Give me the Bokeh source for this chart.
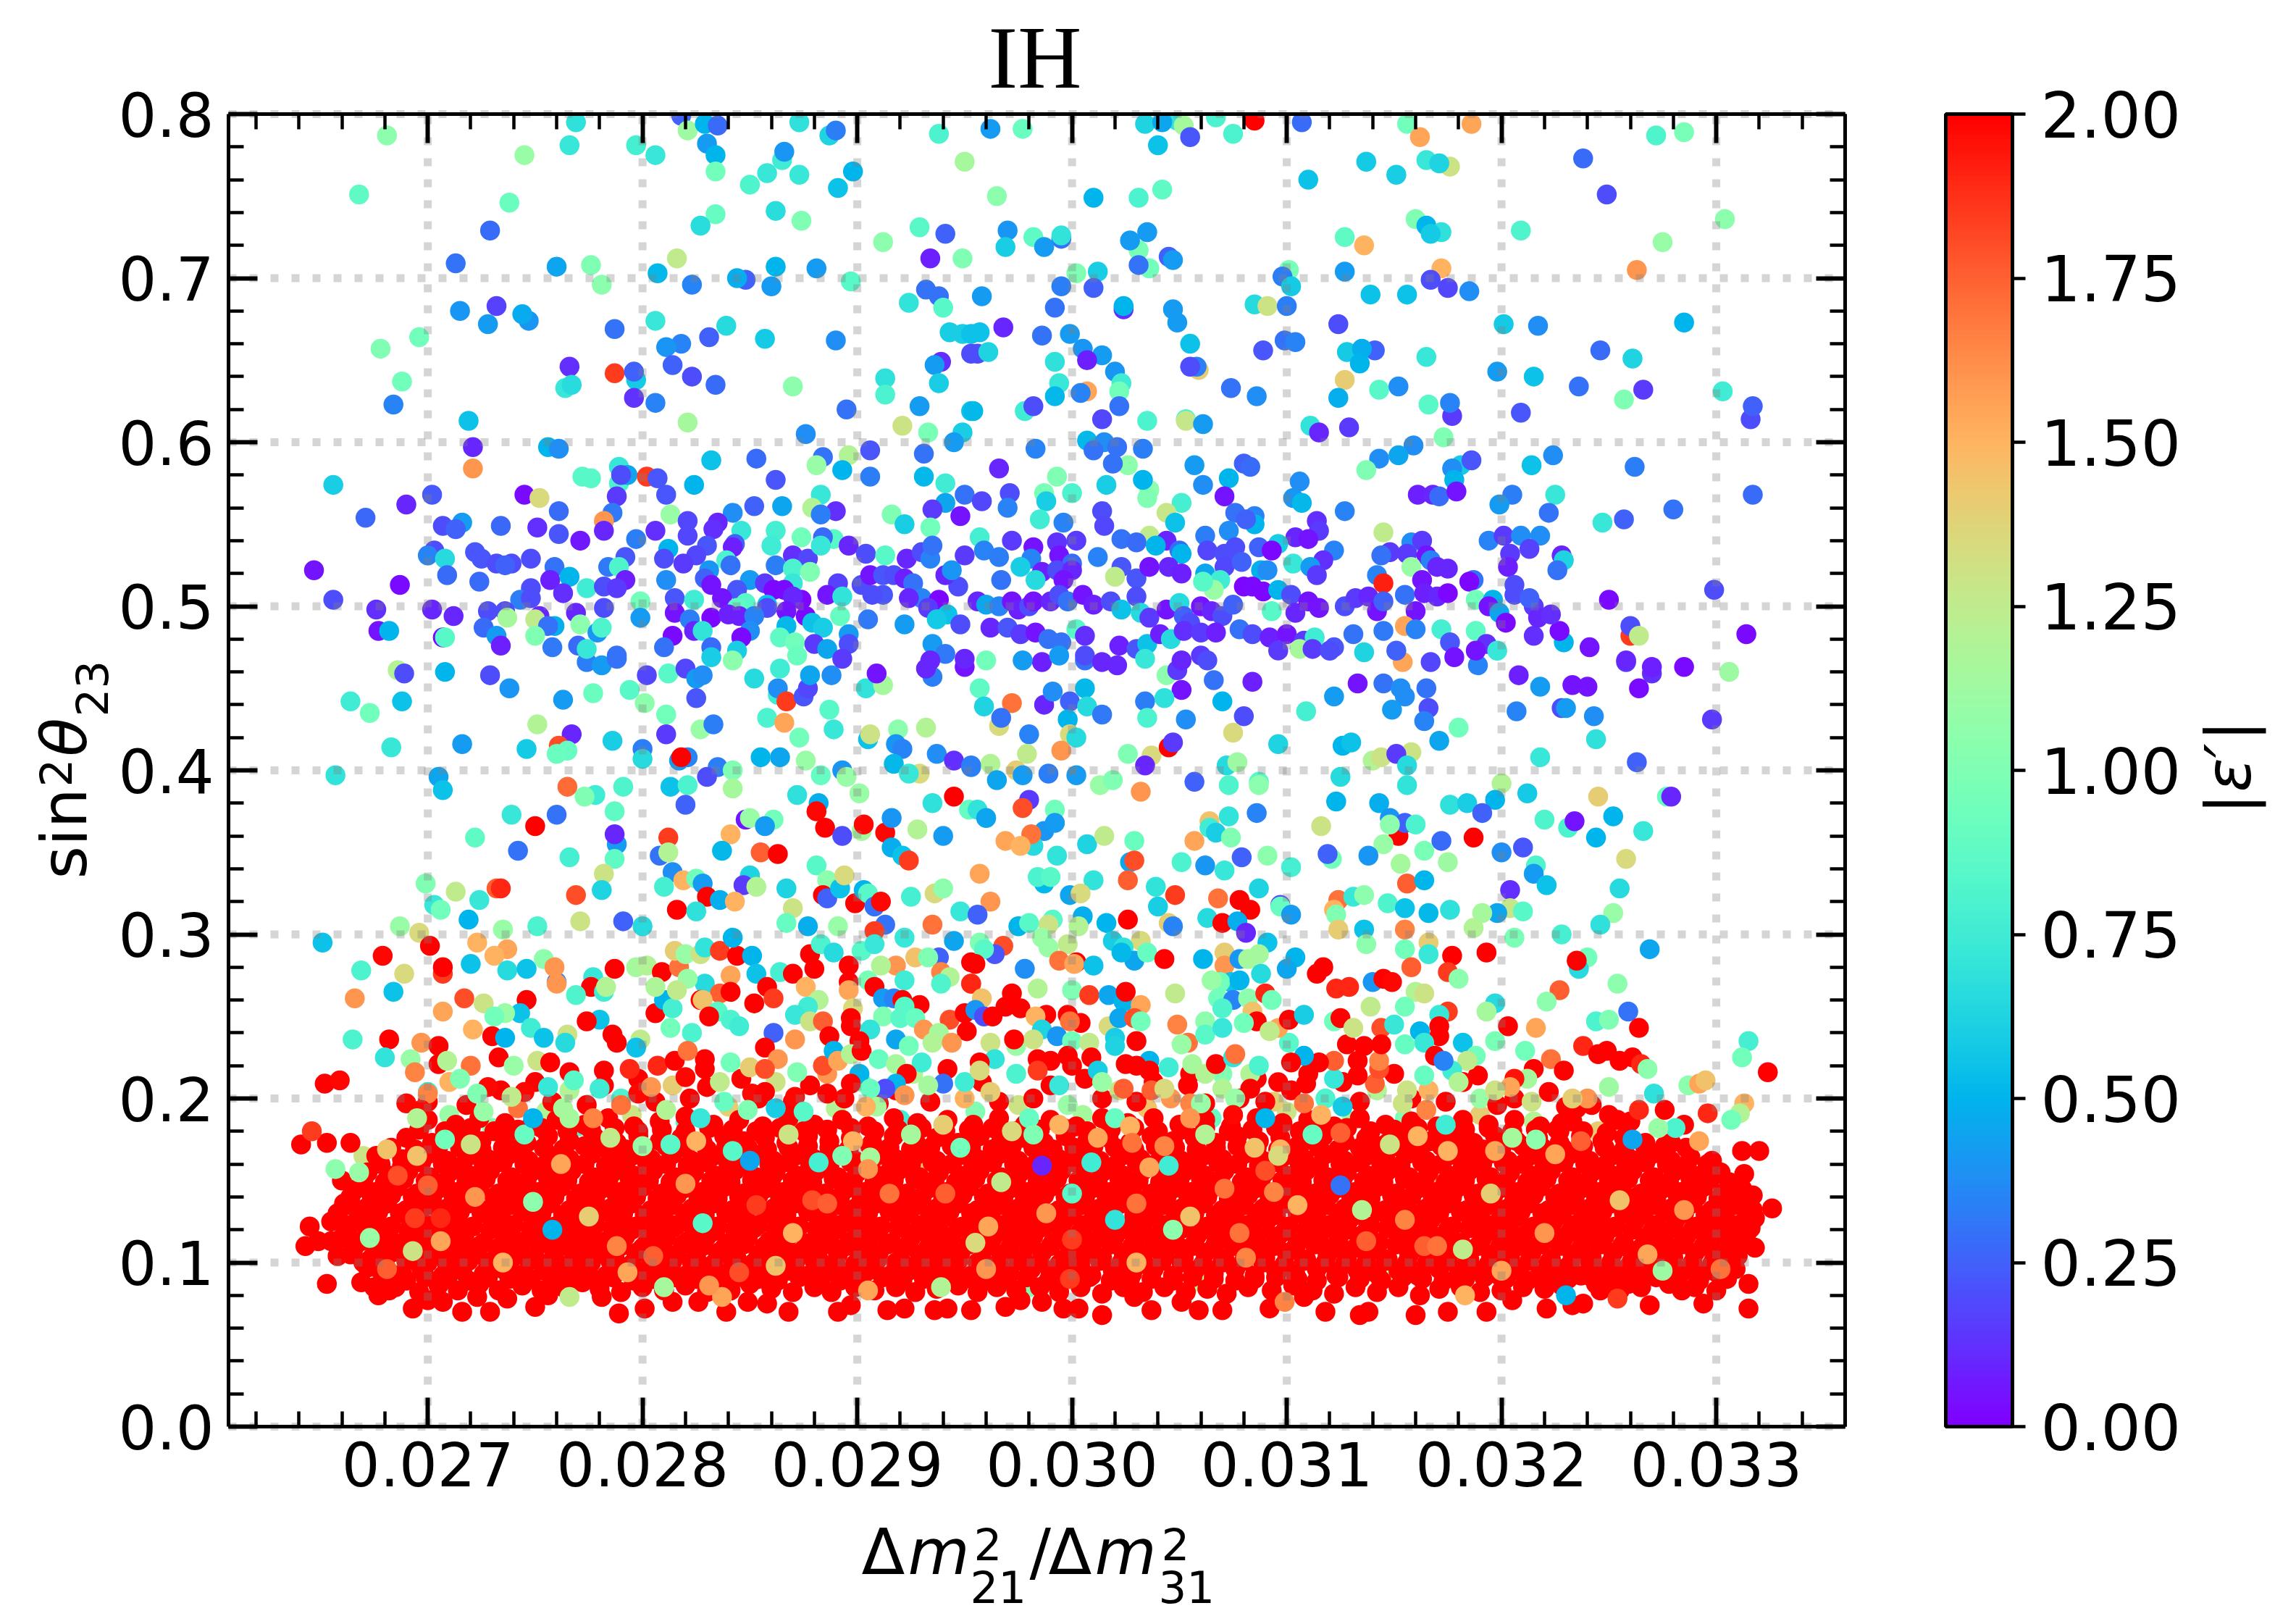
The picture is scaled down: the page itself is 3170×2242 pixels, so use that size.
import numpy as np
from bokeh.embed import file_html
from bokeh.resources import INLINE
from bokeh.plotting import figure
from bokeh.models import (ColumnDataSource, Range1d, LinearAxis, FixedTicker, PrintfTickFormatter,
                          LinearColorMapper, ColorBar, Label)

# ---- tick labels -------------------------------------------------------
x_major = [0.027, 0.028, 0.029, 0.030, 0.031, 0.032, 0.033]
y_major = [0.0, 0.1, 0.2, 0.3, 0.4, 0.5, 0.6, 0.7, 0.8]
cbar_major = [0.0, 0.25, 0.5, 0.75, 1.0, 1.25, 1.5, 1.75, 2.0]

# ---- points: (dm2 ratio x 1000, sin^2 theta23, |eps'|) ----
upper_left = [
(26.81,.787,1.05),(27.69,.795,.68),(27.66,.781,.72),(27.45,.775,1.1),(27.97,.781,.78),(28.06,.775,.72),(28.18,.799,.25),(28.21,.79,1.12),(28.29,.794,.5),(28.35,.793,.28),
(28.30,.782,.42),(28.34,.775,.5),(28.34,.765,.95),(28.50,.757,.82),(28.58,.764,.72),(28.65,.772,.75),(28.66,.777,.4),(28.73,.763,.72),(28.73,.795,.68),(28.87,.787,.62),
(28.90,.79,.33),(28.98,.765,.5),(28.91,.755,.55),(29.38,.788,.8),(29.50,.771,1.15),(26.68,.751,.88),(27.38,.746,.92),(27.29,.729,.28),(28.62,.741,.67),(28.34,.739,.9),
(28.27,.732,.67),(28.74,.735,1.0),(29.12,.722,1.05),(29.29,.731,.85),(29.41,.727,.25),(29.34,.712,.08),(29.49,.712,1.0),(28.16,.712,1.25),(27.13,.709,.3),(27.60,.707,.45),
(27.76,.708,1.0),(28.07,.703,.52),(28.62,.707,.5),(28.81,.706,.42),(28.48,.699,.25),(28.44,.70,.48),(28.23,.696,.35),(28.60,.695,.42),(28.97,.698,.85),(27.81,.696,1.05),
(29.32,.693,.3),(29.38,.689,.3),(29.24,.685,.7),(29.40,.682,.85),(27.15,.68,.4),(27.32,.683,.17),(27.47,.674,.4),(27.44,.678,.47),(27.28,.672,.42),(28.06,.674,.72),
(27.87,.669,.3),(28.39,.671,.65),(28.57,.663,.58),(26.96,.664,.95),(28.31,.664,.25),(28.18,.660,.35),(28.11,.658,.4),(28.90,.662,.38),(29.43,.667,.6),(29.49,.666,.6),
(29.53,.666,.55),(26.78,.657,1.0),(27.66,.646,.12),(29.39,.649,.12),(29.36,.647,.42),(29.53,.654,.2),(27.87,.642,1.85),(27.97,.638,.58),(27.96,.643,.25),(28.14,.647,.25),
(28.23,.64,.2),(28.34,.635,.28),(27.64,.633,.72),(27.67,.635,.66),(26.88,.637,.95),(28.70,.634,1.05),(29.13,.639,.68),(29.13,.629,.8),(29.38,.636,.6),(27.96,.627,.13),
(28.06,.624,.35),(26.84,.623,.35),(28.95,.62,.3),(29.29,.622,.42),(29.53,.619,.55),(27.19,.613,.55),(28.21,.612,1.15),(29.21,.61,1.3),(29.33,.606,.98),(29.49,.606,.6),
(28.76,.605,.38),(27.21,.597,.1),(27.56,.597,.5),(27.61,.596,.38),(29.45,.6,.42),(28.84,.591,.3),(28.96,.592,1.2),(29.06,.595,.22),(29.31,.593,.3),(28.53,.59,.28),
(28.32,.589,.55),(27.21,.584,1.6),(28.81,.586,1.1),(28.93,.583,.5),(27.89,.585,.72),(27.72,.579,.85),(27.76,.578,.85),(27.89,.575,.8),(27.93,.58,.45),(27.90,.58,.2),
(28.02,.579,1.85),(28.07,.578,.22),(28.24,.574,.5),(28.62,.577,.22),(29.06,.579,.33),(29.31,.579,.52),(29.41,.575,.75),(26.56,.574,.6),(27.88,.567,.15),(27.02,.568,.23),
(27.45,.568,.03),(27.52,.566,1.35),(28.11,.568,.22),(28.83,.568,.72),(29.50,.568,.3),(29.41,.563,.45),(26.90,.562,.1),(27.61,.558,.28),(28.65,.561,.45),(28.52,.561,.25),
(28.42,.557,.38),(28.79,.56,1.2),(28.90,.558,.12),(29.35,.559,.15),(29.48,.555,.05),(29.16,.556,1.0),(28.83,.556,.33),(27.86,.557,.32),(26.71,.554,.27),(28.13,.556,1.1),
(27.16,.551,.42),(27.07,.549,.2),(27.13,.547,.25),(27.34,.549,.27),(27.82,.552,1.6),(27.82,.546,.1),(27.51,.548,.12),(27.61,.544,.22),(28.06,.546,.12),(28.21,.552,.18),
(28.35,.551,.1),(28.33,.547,.12),(28.46,.546,.72),(28.62,.546,.78),(28.21,.543,.18),(29.22,.55,.6),(29.34,.548,.95),(27.97,.541,.33),(27.71,.54,.07),(28.74,.542,.95),
(28.89,.541,.85),(28.84,.542,.28),(28.96,.537,.1),(28.43,.538,.25),(28.30,.537,.22),(28.60,.537,.75),(28.12,.535,.5),(27.92,.53,.22),(27.03,.534,.2),(27.22,.533,.22),
(28.70,.531,.12),(28.77,.529,.18),(28.25,.531,.18),(28.42,.536,.08),(28.83,.537,.72),(29.04,.532,.2),(29.13,.531,.85),(29.23,.529,.1),(29.30,.533,.2),(29.34,.529,.35),
(29.35,.537,.3),(27.0,.531,.35),(27.08,.529,.65),(27.25,.529,.22),(27.32,.526,.2),(27.39,.526,.2),(27.36,.525,.25),(27.48,.529,.2),(27.59,.524,.3),(28.10,.529,.2),
(28.19,.526,.15),(27.84,.524,.32),(27.89,.524,.82),(28.39,.528,.8),(28.41,.525,.3),(28.62,.525,.33),(28.70,.523,.8),(28.78,.521,1.0),(28.31,.522,.4),(28.29,.517,.25),
(26.47,.522,.05),(27.09,.519,.28),(27.24,.515,.28),(27.57,.516,.08),(27.66,.518,.5),(27.92,.516,.08),(27.48,.511,.2),(27.63,.508,.12),(27.74,.511,.75),(27.82,.512,.2),
(27.88,.511,.15),(28.11,.516,.38),(26.87,.513,.03),(28.50,.516,.42),(28.57,.514,.15),(28.70,.514,.72),(28.61,.51,.02),(28.66,.51,.03),(28.44,.51,.22),(28.32,.513,.05),
(28.37,.505,.05),(28.91,.514,.17),(29.02,.513,.2),(29.06,.519,.05),(29.12,.519,.22),(29.17,.519,.2),(29.22,.517,.08),(29.26,.514,.3),(29.12,.507,.22),(29.07,.507,.2),
(28.86,.507,.06),(28.93,.506,.7),(29.47,.512,.2),(29.41,.519,.1),(29.44,.522,.4),(29.50,.531,.15),(29.30,.505,.35),(29.38,.504,.02),(26.56,.504,.2),(26.76,.498,.12),
(27.43,.504,.33),(27.48,.505,.2),(28.15,.505,.22),(28.24,.504,.75),(27.99,.503,.95),(27.82,.499,.2),(27.69,.496,.1),(29.24,.505,.1),(28.74,.504,.02),(28.70,.506,.1),
(28.58,.501,.55),(28.48,.502,.85),(28.44,.499,.88),(27.02,.498,.1),(27.28,.497,.2),(27.36,.497,.2),(27.52,.494,.1),(28.15,.496,.05),(28.58,.499,.2),(29.33,.499,.15),
(27.12,.494,.1),(27.37,.493,1.15),(27.50,.492,1.25),(27.71,.489,1.05),(27.99,.493,.42),(28.22,.492,.33),(28.32,.493,.02),(28.40,.495,.08),(28.45,.494,.08),(28.52,.494,.35),
(28.67,.497,.05),(28.76,.494,.03),(28.92,.494,.9),(29.05,.492,.32),(29.22,.489,.42),(29.42,.495,.55),(29.48,.489,.2),(29.37,.492,.58),(27.26,.487,.28),(27.59,.488,.48),
(27.56,.488,.3),(27.79,.484,.4),(27.81,.487,.82),(28.79,.49,.55),(28.67,.488,.52),(28.24,.485,.1),(28.28,.485,.7),(28.84,.487,.6),(28.50,.485,.38),(26.77,.485,.05),
(26.82,.485,.5),(27.32,.482,.42),(27.50,.482,1.0),(28.14,.482,.03),(28.64,.481,.88),(28.96,.483,.42),(28.46,.481,.03),(27.07,.481,.03),(27.08,.481,.85),(28.71,.478,.95),
(28.80,.477,.15),(27.34,.476,.08),(27.58,.475,.32),(27.70,.476,.28),(27.74,.474,.72),(28.10,.475,.3),(28.32,.475,.28),(28.44,.473,.6),(28.86,.474,.45),(28.96,.477,.2),
(29.35,.477,.42),(29.41,.471,.32),(28.72,.47,.92),(28.93,.468,.15),(27.88,.47,.3),(28.32,.469,.6),(28.42,.467,1.05),(29.34,.467,.1),(29.50,.468,.1),
]
upper_right = [
(29.62,.791,.42),(29.77,.791,.92),(30.34,.794,.62),(30.49,.796,.7),(30.42,.795,.45),(30.52,.793,1.15),(30.55,.786,.22),(30.40,.781,.55),(30.67,.798,.8),(30.75,.788,.8),
(30.85,.796,2.0),(31.07,.795,.28),(31.56,.794,.95),(31.62,.786,1.55),(31.86,.794,1.55),(32.72,.787,.82),(32.85,.789,.98),(32.38,.773,.28),(31.76,.768,1.3),(31.65,.772,.72),
(31.71,.77,.62),(31.37,.771,.58),(31.51,.763,.6),(31.10,.76,.55),(30.10,.749,.5),(30.31,.749,.8),(30.42,.754,.88),(29.65,.75,1.05),(32.49,.751,.2),(33.04,.736,1.05),
(31.60,.736,1.0),(31.65,.732,.5),(31.72,.728,.68),(31.67,.727,.58),(32.09,.729,.82),(32.75,.722,1.1),(31.27,.725,.88),(31.36,.72,1.5),(29.70,.729,.4),(29.82,.725,.88),
(29.95,.724,.3),(29.95,.726,.7),(29.87,.719,.42),(29.69,.719,.6),(30.31,.717,.98),(30.35,.728,.42),(30.27,.723,.42),(30.36,.706,.95),(30.31,.708,.3),(30.45,.713,.25),
(30.47,.711,.42),(31.01,.705,.98),(30.98,.701,.33),(31.02,.695,.58),(31.27,.704,.42),(31.72,.706,1.5),(32.63,.705,1.6),(31.67,.699,.2),(31.75,.694,.18),(31.85,.692,.38),
(31.39,.69,.55),(31.56,.69,.55),(30.02,.703,1.0),(30.12,.704,.6),(29.95,.695,.33),(30.10,.694,.25),(29.58,.689,.42),(29.92,.682,.3),(30.24,.681,.12),(30.24,.683,.5),
(30.47,.681,.42),(30.49,.673,.42),(30.85,.684,.65),(30.91,.683,1.3),(31.0,.683,.33),(31.24,.672,.2),(32.01,.672,.58),(32.17,.671,.38),(32.85,.673,.5),(29.68,.67,.1),
(29.57,.667,.55),(29.86,.665,.3),(29.99,.666,.42),(30.55,.66,.55),(30.99,.662,.3),(31.04,.661,.35),(30.89,.656,.22),(31.28,.655,.58),(31.41,.656,.25),(31.35,.657,.48),
(31.34,.648,.5),(31.65,.652,.72),(32.46,.656,.28),(32.61,.651,.62),(30.05,.657,.4),(30.14,.653,.42),(30.07,.65,.08),(29.92,.649,.68),(29.56,.654,.2),(29.61,.655,.62),
(30.20,.643,.4),(30.23,.636,.75),(30.59,.644,1.4),(30.58,.646,.33),(30.55,.646,.2),(29.94,.636,.72),(30.07,.631,1.55),(29.92,.628,.52),(30.04,.63,.35),(30.22,.631,.95),
(30.74,.633,.3),(30.86,.628,.38),(31.27,.638,1.4),(31.43,.632,.85),(31.52,.634,.38),(31.24,.627,.48),(31.98,.643,.42),(32.15,.64,.55),(32.36,.634,.3),(32.66,.632,.15),
(32.57,.626,1.0),(33.03,.631,.75),(33.16,.614,.2),(33.17,.622,.25),(31.66,.623,.85),(31.77,.616,.15),(31.76,.624,.35),(32.09,.618,.22),(29.54,.619,.52),(29.78,.619,.75),
(29.82,.622,.2),(30.22,.622,.3),(30.14,.614,.18),(30.35,.613,.8),(30.53,.614,.8),(30.53,.613,1.28),(30.61,.611,.42),(31.11,.61,.7),(31.15,.606,.1),(31.29,.609,.15),
(31.73,.603,1.0),(30.07,.601,.52),(30.15,.6,.38),(30.21,.597,.3),(30.10,.595,.3),(30.33,.596,.33),(29.83,.596,.35),(31.59,.598,.38),(31.43,.59,.38),(31.52,.592,.45),
(31.81,.586,.58),(31.86,.589,.22),(31.77,.584,.38),(31.78,.577,.5),(31.37,.583,1.0),(32.14,.586,.55),(32.24,.592,.38),(32.62,.585,.33),(29.66,.584,.1),(30.26,.586,1.05),
(30.19,.587,.3),(30.57,.586,.42),(30.80,.587,.25),(30.83,.585,.28),(29.93,.579,1.0),(30.73,.578,.5),(30.36,.571,1.05),(30.35,.566,1.0),(30.33,.577,.5),(30.16,.574,.6),
(30.61,.574,.38),(31.06,.576,.38),(29.87,.569,.98),(29.71,.569,.2),(29.58,.564,.18),(30.0,.569,.8),(29.88,.564,.6),(29.70,.56,.35),(30.71,.567,.05),(30.51,.563,.78),
(30.44,.557,1.28),(30.48,.551,.55),(30.76,.557,.3),(30.85,.555,.35),(30.85,.55,.5),(30.81,.553,.25),(31.03,.566,.4),(31.07,.563,.52),(31.27,.558,.35),(31.61,.568,.08),
(31.68,.568,.1),(31.71,.567,.28),(31.79,.57,.05),(32.05,.568,.33),(32.25,.568,.72),(31.99,.562,.42),(32.22,.557,.3),(32.80,.559,.3),(33.17,.568,.28),(32.57,.553,.25),
(32.47,.551,.72),(29.85,.553,.75),(30.14,.558,.2),(30.15,.549,.18),(29.96,.551,.35),(31.14,.552,.12),(31.15,.546,.15),(31.45,.545,1.25),(31.04,.542,.1),(31.10,.541,.05),
(30.73,.546,.38),(30.62,.543,.33),(29.57,.542,.78),(29.72,.54,.15),(29.93,.539,.13),(30.02,.54,.15),(30.36,.543,1.25),(30.23,.541,.3),(30.30,.539,.28),(30.44,.54,.1),
(30.39,.537,.5),(30.50,.534,.28),(30.51,.532,.5),(30.63,.534,.18),(30.76,.536,.2),(30.71,.532,.2),(30.87,.536,.25),(30.96,.538,.6),(30.93,.534,.02),(31.22,.534,.35),
(31.58,.539,.38),(31.63,.54,.15),(31.48,.533,.15),(31.44,.531,.3),(31.56,.532,.15),(31.65,.531,.05),(31.67,.528,.35),(31.94,.54,.35),(32.01,.543,.15),(32.09,.543,.38),
(32.18,.543,.38),(32.13,.535,.17),(32.04,.532,.15),(32.03,.524,.08),(32.28,.531,.1),(32.29,.528,.62),(32.26,.522,.3),(29.82,.536,.05),(29.59,.534,.35),(29.66,.53,.33),
(29.81,.529,.35),(29.94,.531,.05),(30.0,.526,.28),(30.12,.53,.35),(31.03,.526,.72),(31.17,.528,.12),(31.11,.524,.42),(31.14,.519,.15),(31.58,.524,1.1),(31.42,.519,.35),
(31.70,.524,.1),(31.75,.523,.1),(31.63,.516,.05),(31.87,.516,.3),(31.85,.515,.02),(31.45,.514,1.92),(29.76,.524,.6),(29.86,.521,.08),(29.83,.516,.65),(29.67,.516,.3),
(29.93,.522,.2),(30.0,.522,.1),(29.96,.516,.05),(30.23,.524,.22),(30.2,.518,1.25),(30.30,.517,.22),(30.36,.524,.05),(30.45,.524,.1),(30.51,.52,.08),(30.62,.52,.45),
(30.71,.524,.18),(30.79,.527,.25),(30.88,.522,.48),(30.91,.522,.38),(30.69,.516,.75),(30.66,.51,1.1),(30.61,.515,.85),(32.06,.513,.2),(32.99,.51,.2),(32.50,.504,.03),
(32.6,.482,1.85),(32.60,.488,.2),(32.64,.482,1.25),(33.14,.483,.03),(32.41,.475,.05),(32.29,.478,.5),(32.27,.485,.03),(32.15,.482,.12),(32.58,.467,.1),(32.70,.463,.08),
(29.56,.503,.1),(29.60,.501,.45),(29.66,.5,.35),(29.72,.503,.05),(29.75,.498,.08),(29.80,.5,.2),(29.82,.503,.05),(29.90,.503,.1),(29.94,.507,.2),(29.98,.503,.3),
(30.05,.507,.05),(30.10,.501,.08),(30.18,.503,.2),(30.23,.498,.55),(30.30,.506,.2),(30.32,.496,.65),(30.36,.493,.15),(30.44,.498,.05),(30.50,.502,.65),(30.52,.494,.25),
(30.55,.49,.2),(30.60,.5,.05),(30.65,.497,.1),(30.70,.494,.2),(30.75,.501,.25),(30.80,.512,.02),(30.84,.512,.03),(30.89,.509,.02),(30.93,.497,.85),(30.96,.51,.5),
(31.02,.507,.2),(31.04,.496,.1),(31.10,.503,.05),(31.15,.499,.05),(31.27,.5,.2),(31.32,.505,.15),(31.38,.506,.1),(31.42,.497,.05),(31.45,.503,.25),(31.55,.507,.3),
(31.60,.497,.05),(31.64,.508,.08),(31.70,.506,.1),(31.75,.508,.02),(31.88,.504,.95),(31.96,.504,.5),(31.94,.5,.05),(31.99,.496,.45),(32.02,.49,.03),(32.06,.507,.2),
(32.15,.5,.15),(32.17,.493,.1),(32.13,.505,.25),(32.23,.495,.12),(29.62,.487,.1),(29.70,.487,.22),(29.76,.483,.15),(29.83,.484,.05),(29.89,.48,.3),(29.95,.478,.3),
(30.02,.486,.85),(30.06,.482,.12),(30.22,.476,.08),(30.30,.474,.22),(30.35,.477,.55),(30.41,.483,.08),(30.46,.48,.65),(30.52,.485,.12),(30.60,.484,.15),(30.67,.484,.08),
(30.78,.486,.3),(30.84,.483,.2),(30.92,.481,.08),(31.0,.483,.05),(31.08,.479,.15),(31.13,.481,.75),(31.22,.475,.22),(31.31,.483,.3),(31.45,.485,.32),(31.55,.488,1.55),
(31.60,.486,.35),(31.72,.486,.78),(31.76,.478,.22),(31.88,.485,.88),(31.93,.477,.12),(31.98,.473,.72),(29.77,.467,.42),(29.94,.47,.42),(30.06,.47,.2),(30.14,.466,.1),
(30.34,.468,.72),(30.51,.467,.1),(30.60,.47,.15),(30.63,.467,.2),(30.96,.473,.15),(31.06,.474,1.15),(31.12,.474,.15),(31.2,.473,.2),(31.36,.472,.62),(31.51,.473,.25),
(31.67,.466,.18),(31.78,.469,.05),(31.88,.473,.05),
]
mid_left = [
(26.86,.461,1.2),(26.89,.459,.2),(27.08,.46,.5),(27.29,.458,.2),(27.38,.45,.4),(26.64,.442,.75),(26.73,.435,.95),(26.88,.442,.55),(26.83,.414,.72),(27.16,.416,.42),
(27.63,.443,.42),(27.77,.447,.92),(27.94,.449,.85),(28.01,.441,1.05),(28.02,.458,.18),(28.12,.459,.85),(28.20,.462,.18),(28.25,.456,.42),(28.28,.458,.38),(28.25,.444,.22),
(28.11,.434,.95),(28.27,.425,1.1),(28.33,.428,.33),(27.74,.466,.33),(27.81,.464,.42),(27.88,.468,.3),(28.52,.456,.65),(28.63,.446,.75),(28.63,.45,.38),(28.67,.442,1.85),
(28.64,.462,.75),(28.75,.445,.22),(28.77,.45,.18),(28.78,.458,.45),(28.88,.458,.38),(28.87,.437,.85),(28.89,.425,.72),(28.58,.432,.8),(28.66,.429,1.55),(28.73,.42,.95),
(29.04,.45,.7),(29.12,.452,1.15),(29.09,.459,.05),(29.35,.457,.33),(29.32,.462,.1),(29.50,.463,.05),(29.05,.419,.55),(29.06,.422,1.3),(29.19,.425,1.05),(29.32,.426,1.2),
(29.18,.416,.4),(29.21,.413,.35),(29.37,.41,.38),(29.45,.406,.12),(29.53,.402,.35),(29.17,.404,.52),(29.29,.398,1.35),(29.24,.398,.72),(27.51,.428,1.2),(27.67,.422,.1),
(27.61,.415,1.8),(27.65,.412,.9),(27.6,.41,.92),(27.46,.413,.58),(27.86,.418,.6),(28.0,.413,.33),(28.0,.407,.65),(28.11,.422,.15),(28.17,.406,.42),(28.21,.408,.35),
(28.18,.408,2.0),(28.35,.402,.33),(28.42,.4,1.0),(28.30,.396,.2),(28.42,.389,1.15),(28.55,.408,.5),(28.64,.408,1.0),(28.64,.408,.45),(28.76,.406,1.1),(28.83,.397,.9),
(28.93,.4,.4),(28.95,.396,1.1),(29.01,.386,1.1),(26.57,.397,.7),(27.05,.396,.45),(27.07,.388,.55),(27.65,.39,1.72),(27.78,.385,.75),(27.73,.384,1.0),(27.91,.39,.82),
(27.87,.375,.88),(28.13,.39,.55),(28.21,.391,.8),(28.2,.379,.25),(28.72,.385,.68),(28.82,.38,.48),(28.81,.375,1.98),(29.35,.38,.68),(29.45,.384,2.0),(29.52,.376,.9),
(27.39,.373,.72),(27.6,.373,.3),(27.5,.366,2.0),(27.22,.359,.88),(27.42,.351,.3),(27.88,.355,.42),(27.87,.361,.1),(27.66,.347,.78),(27.87,.346,.88),(28.12,.359,1.85),
(28.08,.348,.3),(28.12,.35,1.2),(28.14,.338,.38),(28.41,.361,1.5),(28.37,.351,.52),(28.48,.37,.05),(28.5,.371,1.1),(28.61,.37,.95),(28.57,.366,.42),(28.55,.35,1.75),
(28.63,.349,2.0),(28.85,.365,2.0),(28.93,.36,.2),(29.02,.363,1.15),(29.03,.367,1.98),(29.13,.362,1.98),(29.16,.371,.4),(29.16,.353,.48),(29.28,.364,1.2),(29.4,.36,.42),
(29.21,.348,.55),(29.24,.345,1.85),(28.81,.342,.85),(27.82,.337,1.3),(27.81,.327,.62),(27.69,.324,1.8),(27.71,.308,1.3),(27.91,.308,.25),(28,.305,.65),(28.1,.329,.78),
(28.19,.333,1.5),(28.25,.334,.95),(28.28,.331,.42),(28.5,.335,1.98),(28.5,.336,.62),(28.47,.33,.15),(28.53,.329,1.2),(28.3,.323,2.0),(28.36,.321,.48),(28.43,.32,1.5),
(28.16,.315,2.0),(28.25,.314,.68),(28.67,.328,.62),(28.7,.316,1.3),(28.67,.307,.9),(28.86,.333,1.05),(28.84,.324,2.0),(28.86,.322,.25),(28.92,.328,.55),(28.94,.336,1.35),
(28.99,.319,2.0),(29.03,.327,.5),(29.05,.325,.85),(29.08,.317,.3),(29.11,.32,1.98),(28.77,.305,.48),(28.91,.305,1.1),(29.25,.323,.78),(29.36,.325,1.35),(29.4,.328,1.05),
(29.48,.314,.72),(29.13,.306,.3),(29.35,.306,1.7),(29.08,.302,1.85),(26.99,.331,1.0),(27.13,.326,1.25),(27.03,.318,.72),(27.06,.315,.95),(27.24,.321,.72),(27.32,.328,1.75),
(27.34,.328,1.9),(27.19,.309,.5),(27.51,.305,.8),(27.35,.303,1.1),(26.87,.305,1.1),(26.96,.301,1.35),(26.51,.295,.55),(26.79,.287,1.98),(27.01,.293,2.0),(27.23,.295,1.5),
(27.37,.291,1.55),(27.31,.287,1.5),(26.69,.278,.8),(26.89,.276,1.35),(27.07,.276,1.85),(27.07,.28,2.0),(27.2,.282,.55),(27.37,.278,.65),(27.46,.279,.55),(27.54,.285,1.05),
(27.6,.271,.35),(27.6,.27,1.6),(27.59,.28,1.6),(27.87,.279,2.0),(27.97,.28,1.15),(28.02,.281,1.2),(27.77,.274,.72),(27.76,.268,2.0),(27.82,.265,.75),(27.83,.268,1.2),
(27.69,.263,.82),(26.84,.265,.55),(26.66,.261,1.6),(27.17,.261,1.8),(27.26,.258,1.3),(27.07,.253,1.55),(27.46,.26,2.0),(27.43,.252,.55),(27.36,.252,1.1),(27.31,.25,.95),
(27.8,.248,.55),(27.74,.247,2.0),(27.48,.243,.75),(28.06,.252,2.0),(28.1,.26,.5),(28.14,.255,.78),(28.13,.243,.95),(28.09,.277,2.0),(28.06,.268,1.18),(28.17,.28,1.7),
(28.15,.29,1.4),(28.2,.288,1.1),(28.27,.288,1.3),(28.29,.292,.7),(28.36,.29,1.85),(28.44,.287,2.0),(28.42,.298,.5),(28.51,.287,.5),(28.53,.276,.55),(28.41,.275,1.55),
(28.29,.27,.65),(28.21,.273,1.1),(28.16,.266,1.25),(28.36,.264,1.75),(28.41,.265,2.0),(28.27,.26,2.0),(28.28,.26,1.45),(28.52,.258,2.0),(28.58,.268,2.0),(28.61,.261,1.85),
(28.64,.277,.78),(28.7,.276,2.0),(28.76,.268,1.5),(28.78,.288,2.0),(28.8,.279,2.0),(28.83,.294,.8),(28.89,.289,.65),(28.96,.281,2.0),(28.96,.271,2.0),(28.96,.266,1.55),
(29.05,.272,.98),(29.08,.268,2.0),(29.02,.29,.85),(29.08,.294,.72),(29.22,.298,.72),(29.45,.296,.45),(29.38,.286,.25),(29.27,.286,1.45),(29.33,.286,1.0),(29.18,.281,1.6),
(29.11,.281,1.2),(29.22,.272,.75),(29.39,.277,1.65),(29.43,.274,1.2),(29.39,.27,.82),(29.53,.283,2.0),(29.53,.27,1.7),(29.12,.261,.42),(29.17,.261,.35),(29.21,.26,2.0),
(29.29,.257,2.0),(29.22,.256,.85),(29.12,.25,1.0),(29.2,.249,.85),(29.27,.249,.9),(28.98,.255,1.35),(28.82,.26,1.2),(28.77,.256,.75),(28.71,.251,.72),(28.78,.247,1.3),
(28.84,.247,1.75),(28.35,.253,.85),(28.41,.248,.8),(28.45,.244,.75),(28.31,.25,2.0),(28.97,.249,2.0),(28.97,.244,2.0),(29.06,.242,.7),(29.31,.242,1.6),(29.43,.248,1.8),
(29.38,.24,1.15),(29.5,.252,2.0),(29.51,.241,2.0),(26.65,.236,.8),(26.82,.236,2.0),(27.21,.242,1.5),(27.3,.238,2.0),(27.36,.237,.5),(27.54,.237,.55),(27.65,.239,1.3),
(27.64,.234,.65),(27.86,.239,2.0),(27.88,.234,2.0),(27.99,.236,1.25),(27.97,.231,.55),(28.23,.24,.8),(28.61,.24,.25),(28.71,.236,1.6),(28.87,.238,2.0),(29.01,.235,2.0),
(29.18,.236,.45),(29.35,.234,1.2),(29.44,.234,1.6),(29.24,.232,.95),(26.8,.225,.7),(26.97,.234,1.6),(27.05,.232,2.0),(27.05,.221,2.0),(26.92,.224,1.1),(27.09,.223,1.2),
(27.2,.22,1.7),(27.33,.225,2.0),(27.4,.22,1.1),(27.51,.223,1.3),(27.57,.222,2.0),(27.66,.216,2.0),(27.82,.217,2.0),(27.94,.218,1.9),(28.07,.22,1.9),(28.15,.223,2.0),
(28.29,.224,2.0),(28.29,.218,2.0),(28.21,.229,1.7),(28.41,.222,.95),(28.57,.231,2.0),(28.63,.224,1.6),(28.5,.219,1.4),(28.57,.218,1.8),(28.72,.216,1.0),(28.84,.22,1.8),
(28.89,.229,.5),(28.91,.223,1.55),(28.97,.227,1.2),(29.02,.229,2.0),(29.1,.224,.9),(29.18,.221,1.15),(29.3,.222,.75),(29.23,.215,2.0),(26.94,.216,1.65),(27.15,.212,1.0),
(26.52,.209,2.0),(26.59,.211,1.98),(27.28,.207,1.98),(27.45,.204,1.98),(27.56,.207,.72),(27.68,.211,.85),(27.8,.206,.75),(27.0,.204,.75),(27,.203,1.65),(27.23,.203,1.0),
(27.39,.201,1.25),(27.98,.203,1.98),(28.04,.207,1.6),(28.2,.213,1.98),(28.36,.21,1.25),(28.51,.203,1.98),(28.57,.204,2.0),(28.71,.201,1.98),(28.86,.203,2.0),(29.01,.215,.5),
(28.97,.209,2.0),(29.18,.209,.5),(29.13,.206,.2),(29.06,.206,.9),(29.4,.209,.3),(29.33,.208,1.15),(29.5,.21,.75),(29.22,.202,1.6),(26.9,.197,1.98),(26.97,.193,1.98),
(27.49,.188,.5),(27.66,.188,1.15),(27.63,.194,1.15),(27.77,.188,1.65),(27.9,.196,1.7),(28.11,.193,1.2),(28.27,.188,.72),(28.49,.193,1.0),(28.62,.194,.6),(28.75,.192,.85),
(29.09,.195,1.15),(29.04,.195,1.5),(29.4,.184,1.4),(26.95,.188,1.2),(26.46,.18,1.85),(26.57,.157,1.05),(26.68,.155,1.1),(26.81,.169,1.45),(26.86,.153,1.8),(27.08,.175,.95),
(28.0,.171,1.1),(28.13,.172,.85),(28.5,.162,.45),(28.82,.161,.78),(28.93,.165,1.0),(29.06,.164,1.15),(29.05,.157,1.6),(26.73,.115,1.1),(26.93,.107,1.3),(27.49,.137,1.05),
(27.58,.12,.5),(27.0,.147,1.75),(26.94,.127,1.85),(27.06,.127,1.9),(28.05,.104,1.75),(28.1,.085,1.15),(27.66,.079,1.25),(28.37,.079,1.55),(28.45,.094,1.8),(29.05,.083,1.55),
(28.53,.135,1.85),(28.79,.138,1.8),(28.86,.136,1.75),(28.28,.124,.85),(27.93,.094,1.55),(28.31,.086,1.6),(26.81,.096,1.75),(27.06,.113,1.55),(29.39,.085,1.2),(29.41,.142,1.75),
]
mid_right = [
(29.6,.467,.95),(29.86,.466,.08),(30.06,.467,.3),(30.21,.464,.1),(30.44,.458,1.05),(30.49,.461,.15),(30.51,.449,.05),(30.66,.455,.3),(30.84,.454,.08),(31.33,.453,.05),
(31.45,.453,.3),(31.55,.445,.38),(31.53,.45,.38),(31.65,.45,.3),(31.22,.445,.42),(31.54,.466,1.55),(31.89,.464,.35),(32.08,.458,.08),(32.18,.451,.42),(32.33,.452,.05),
(32.4,.451,.05),(32.58,.466,.15),(32.7,.459,.12),(32.64,.45,.03),(32.85,.463,.03),(33.06,.46,1.12),(29.57,.45,.88),(29.59,.439,.62),(29.72,.441,1.7),(29.87,.44,.1),
(29.91,.448,.38),(30.06,.45,.52),(29.99,.442,.25),(30.07,.439,.65),(30.14,.434,.32),(30.34,.442,.33),(30.43,.444,.68),(30.35,.432,.8),(30.53,.431,.38),(30.7,.442,.5),
(30.8,.433,.2),(31.09,.436,.78),(31.49,.437,.42),(31.66,.438,.2),(31.64,.43,.35),(31.8,.426,.95),(31.71,.418,.45),(32.07,.436,.35),(32.28,.438,.2),(32.3,.438,.42),
(32.43,.433,.38),(32.44,.419,.68),(32.98,.431,.15),(29.66,.427,1.35),(29.67,.432,.3),(29.8,.422,.35),(29.98,.431,.5),(29.99,.422,1.35),(30.02,.42,.65),(29.95,.412,1.6),
(29.79,.41,1.25),(29.62,.404,1.2),(29.53,.403,.33),(29.74,.4,1.4),(29.77,.397,.42),(29.65,.394,.45),(29.89,.398,.33),(30.02,.397,.42),(30.13,.391,1.1),(30.19,.394,1.0),
(30.26,.41,1.0),(30.37,.409,1.35),(30.45,.414,2.0),(30.47,.417,.15),(30.34,.403,.1),(30.32,.387,1.6),(30.57,.393,.25),(30.75,.423,1.35),(30.72,.403,.65),(30.77,.405,1.12),
(30.73,.391,.82),(30.87,.393,.85),(30.87,.391,1.05),(30.96,.416,.62),(31.26,.415,.5),(31.3,.417,.55),(31.4,.406,1.2),(31.44,.408,1.3),(31.58,.411,1.3),(31.51,.41,.15),
(31.56,.403,.65),(31.56,.391,.7),(31.25,.396,.65),(32.0,.392,1.2),(32.12,.386,.58),(32.63,.405,.25),(32.18,.408,.72),(32.45,.384,1.4),(32.77,.384,.9),(32.79,.384,.1),
(29.56,.376,.7),(29.6,.371,.45),(29.8,.382,.15),(29.92,.376,.95),(29.77,.377,1.8),(29.87,.363,.4),(29.92,.368,.42),(30.07,.355,.62),(30.15,.36,1.25),(30.29,.357,.92),
(29.82,.354,.65),(29.81,.361,1.7),(29.69,.357,1.55),(29.76,.354,1.5),(29.93,.348,.7),(30.27,.344,.45),(30.29,.345,1.8),(30.51,.344,.8),(30.57,.357,1.55),(30.64,.369,1.45),
(30.64,.365,.75),(30.67,.362,.6),(30.74,.359,1.0),(30.73,.372,.7),(30.86,.374,.35),(31.16,.366,1.3),(31.23,.381,.5),(31.43,.38,.48),(31.48,.371,.4),(31.52,.36,2.0),
(31.55,.368,.25),(31.48,.367,1.05),(31.6,.367,.8),(31.76,.379,.68),(31.84,.38,.6),(31.97,.382,.5),(31.91,.374,.25),(31.72,.357,.28),(31.87,.359,2.0),(32.2,.37,.82),
(32.31,.365,.8),(32.34,.369,.05),(32.44,.359,.5),(32.52,.372,.5),(32.66,.363,.72),(32.0,.35,.38),(32.1,.353,.22),(31.45,.355,1.1),(31.64,.351,.98),(30.79,.347,.25),
(30.91,.348,1.05),(31.21,.346,.95),(31.19,.349,.25),(31.38,.348,.4),(31.02,.341,.78),(31.53,.343,1.15),(31.75,.344,1.12),(30.62,.342,.4),(30.71,.339,.72),(32.16,.342,.82),
(32.15,.337,.42),(32.58,.346,1.35),(29.57,.337,1.55),(29.87,.331,.52),(29.84,.335,.8),(29.9,.335,.85),(30.1,.333,.7),(30.26,.333,1.75),(30.39,.329,.7),(30.48,.324,1.85),
(30.4,.317,.6),(30.68,.322,1.7),(30.78,.321,2.0),(30.83,.315,2.0),(30.87,.328,.62),(30.97,.318,.2),(30.97,.317,.9),(31.02,.312,.42),(31.24,.321,1.7),(31.31,.323,.72),
(31.36,.324,1.05),(31.22,.315,1.5),(31.23,.312,1.0),(31.47,.319,.82),(31.55,.316,.55),(31.56,.331,1.75),(31.64,.333,.5),(32.04,.327,.12),(32.21,.33,.55),(32.55,.328,.65),
(32.04,.316,1.28),(31.98,.313,.45),(32.1,.314,.85),(31.91,.313,1.15),(31.66,.313,.52),(31.76,.315,.68),(32.52,.313,1.1),(32.46,.306,.68),(29.62,.32,1.6),(29.56,.312,.25),
(29.99,.324,.45),(30.04,.325,1.35),(30.05,.311,.48),(30.26,.309,2.0),(30.16,.307,.5),(29.91,.309,.85),(29.89,.306,1.3),(29.75,.305,.5),(29.8,.307,.85),(30.03,.305,1.2),
(30.45,.307,1.4),(30.47,.305,.35),(30.63,.31,.65),(30.7,.307,2.0),(30.77,.308,.48),(30.81,.301,.1),(29.57,.295,1.0),(29.86,.298,1.1),(29.89,.292,1.1),(29.98,.294,1.25),
(29.68,.293,1.8),(29.64,.288,.22),(29.59,.291,.85),(29.55,.282,2.0),(29.94,.284,1.7),(30.02,.283,2.0),(30.01,.282,1.55),(29.78,.279,.38),(30.1,.281,.55),(30.19,.296,.6),
(30.32,.296,1.35),(30.24,.292,.7),(30.29,.284,.45),(30.23,.289,.52),(30.35,.289,.9),(30.43,.285,2.0),(30.91,.295,.55),(30.61,.285,.5),(30.71,.289,1.4),(30.71,.281,1.6),
(30.78,.285,.4),(30.82,.285,1.15),(30.87,.288,1.15),(31.04,.286,.5),(31,.279,.45),(30.88,.276,.65),(31.24,.303,1.4),(31.36,.303,.55),(31.37,.294,1.05),(31.55,.303,1.65),
(31.55,.291,.95),(31.66,.295,1.4),(31.66,.288,.72),(31.77,.287,2.0),(31.93,.289,2.0),(31.87,.304,1.2),(32.06,.298,.98),(32.28,.3,.78),(32.69,.291,.45),(32.4,.286,.95),
(32.36,.279,.65),(32.35,.284,2.0),(31.58,.28,1.75),(31.75,.277,1.85),(31.8,.273,1.05),(31.14,.276,2.0),(31.17,.28,2.0),(31.23,.267,1.9),(31.29,.268,1.9),(31.4,.271,.4),
(31.45,.273,2.0),(31.49,.271,1.98),(31.6,.265,1.2),(31.64,.264,1.3),(32.54,.27,1.05),(32.27,.266,1.75),(32.21,.259,1.05),(31.97,.258,.65),(31.93,.253,1.15),(31.75,.253,1.85),
(31.71,.251,.72),(31.39,.256,1.25),(31.55,.256,.95),(32.59,.253,.3),(32.64,.243,2.0),(32.44,.247,.8),(32.5,.248,1.0),(32.16,.243,1.55),(32.03,.244,2.0),(33.15,.235,.78),
(33.12,.225,.95),(33.24,.216,2.0),(31.97,.235,.98),(31.44,.243,1.8),(31.5,.245,.72),(31.62,.241,.5),(31.71,.244,2.0),(31.71,.238,2.0),(31.82,.234,.55),(31.64,.234,.72),
(31.55,.233,.9),(32.11,.229,.95),(32.23,.224,1.7),(32.38,.232,1.9),(32.45,.227,2.0),(32.49,.229,2.0),(32.55,.223,2.0),(32.61,.225,2.0),(32.65,.221,1.9),(32.68,.218,1.05),
(32.29,.217,2.0),(32.15,.218,2.0),(32.12,.212,1.15),(32.06,.212,1.95),(32.04,.207,1.55),(31.97,.205,1.3),(31.89,.214,2.0),(31.88,.226,.95),(31.84,.223,1.25),(31.77,.217,.75),
(31.8,.21,1.2),(31.69,.226,2.0),(31.73,.223,.35),(31.64,.214,.9),(31.56,.205,1.3),(31.41,.209,1.75),(31.43,.218,1.8),(31.43,.223,1.65),(31.44,.233,2.0),(31.36,.232,2.0),
(31.28,.233,2.0),(31.33,.223,2.0),(31.33,.214,2.0),(31.22,.212,.72),(31.22,.223,1.75),(31.15,.222,2.0),(31.08,.226,.5),(31.02,.222,2.0),(31.01,.234,.85),(30.96,.243,1.55),
(31.01,.248,2.0),(31.08,.251,.6),(31.22,.247,.95),(31.25,.249,2.0),(31.31,.243,1.3),(32.5,.207,1.12),(32.33,.2,1.4),(32.71,.203,.68),(32.87,.208,1.05),(32.92,.209,1.55),
(32.95,.211,1.45),(33.13,.197,1.5),(33.11,.191,1.2),(33.07,.187,.95),(32.81,.182,.8),(32.73,.182,1.1),(32.92,.174,1.55),(32.61,.175,.45),(32.96,.191,1.9),(32.76,.193,2.0),
(32.64,.193,1.9),(29.53,.27,1.9),(29.84,.267,1.2),(30.0,.266,1.0),(30.08,.263,1.85),(29.72,.264,2.0),(29.69,.256,2.0),(29.76,.255,2.0),(29.58,.261,1.45),(29.55,.254,.4),
(29.59,.25,.2),(29.63,.25,2.0),(29.88,.251,2.0),(29.83,.25,1.5),(29.98,.251,2.0),(30.04,.246,2.0),(29.99,.247,1.7),(29.86,.242,.62),(30.17,.244,1.35),(30.17,.263,.45),
(30.24,.259,.5),(30.25,.265,2.0),(30.32,.257,1.55),(30.22,.249,.45),(30.29,.249,1.8),(30.32,.247,.95),(30.2,.237,.6),(30.2,.232,.62),(30.3,.235,2.0),(30.48,.264,1.25),
(30.49,.245,1.65),(30.54,.234,1.7),(30.51,.233,1.1),(30.62,.247,1.05),(30.62,.239,.85),(30.7,.243,.72),(30.74,.271,.55),(30.69,.271,.95),(30.65,.272,1.1),(30.78,.272,.5),
(30.68,.261,.95),(30.75,.26,.35),(30.82,.261,1.05),(30.9,.264,1.9),(30.93,.26,.95),(30.84,.253,1.45),(30.86,.247,2.0),(30.8,.246,.95),(30.92,.241,1.25),(30.7,.255,.82),
(29.93,.238,.4),(30.0,.235,.95),(30.08,.234,1.25),(29.62,.234,1.3),(29.74,.232,1.1),(29.82,.236,1.3),(29.73,.236,2.0),(29.64,.224,.7),(29.57,.222,2.0),(29.84,.224,2.0),
(29.9,.223,2.0),(29.98,.226,2.0),(30.09,.225,2.0),(30,.22,2.0),(30.25,.221,2.0),(30.36,.223,.5),(30.3,.22,2.0),(30.36,.217,2.0),(30.12,.217,.6),(30.45,.219,.75),
(30.55,.215,2.0),(30.56,.221,1.15),(30.62,.215,1.2),(30.67,.221,2.0),(30.75,.225,.7),(30.76,.227,1.7),(30.83,.215,1.2),(30.87,.22,.8),(31.09,.209,2.0),(30.96,.21,2.0),
(30.83,.206,2.0),(30.9,.198,2.0),(29.57,.217,1.35),(29.62,.204,1.4),(29.94,.208,.72),(29.84,.217,1.85),(30.14,.21,1.1),(30.24,.206,1.75),(30.37,.205,1.75),(30.43,.206,1.35),
(30.55,.197,1.65),(30.6,.197,1.1),(30.7,.206,1.2),(30.76,.2,1.1),(31.08,.197,1.7),(31.16,.19,1.5),(31.26,.195,.58),(31.25,.179,1.75),(31.54,.197,1.3),(31.65,.193,1.65),
(31.74,.184,.75),(31.61,.177,1.5),(32.16,.175,1.05),(32.37,.174,1.75),(31.97,.168,1.55),(30.9,.188,.5),(30.75,.19,1.98),(29.8,.188,.9),(30.2,.188,.9),(30.55,.188,1.6),
(29.94,.184,1.5),(30.27,.183,1.5),(29.82,.178,1.0),(30.97,.169,1.5),(30.96,.165,1.35),(30.43,.171,1.65),(30.28,.173,1.7),(30.0,.142,.85),(31.25,.147,.3),(29.86,.159,.1),
(30.09,.161,.75),(30.45,.159,.75),(29.67,.149,1.25),(30.36,.158,1.55),(30.9,.156,1.8),(30.94,.143,1.65),(30.3,.136,1.7),(31.35,.132,1.2),(30.71,.145,1.7),(30.2,.126,.7),
(29.61,.122,1.55),(30.47,.12,1.05),(30.81,.103,1.65),(30.0,.114,1.85),(31.82,.108,1.25),(32.85,.132,1.6),(32.75,.095,1.12),(32.0,.095,1.55),(31.83,.08,1.5),(30.99,.076,1.65),
(29.99,.09,1.85),(32.54,.078,1.85),(32.3,.08,.5),(33.02,.096,1.7),(31.64,.11,1.75),(31.7,.11,1.7),(31.37,.113,1.75),
]
under_red = [
(27.1,.19,1.1),(27.3,.182,1.0),(27.55,.192,1.2),(27.7,.183,.8),(27.95,.19,1.3),(28.2,.186,.8),(28.4,.195,1.4),(28.7,.186,1.0),(28.9,.194,1.2),(29.2,.187,.75),
(29.55,.192,1.0),(29.75,.196,1.3),(30.05,.19,1.15),(30.35,.194,1.45),(30.65,.188,.9),(31.0,.192,1.3),(31.3,.186,1.15),(31.55,.188,1.0),(31.9,.19,1.4),(32.15,.186,1.2),
(32.45,.18,1.4),(26.7,.165,1.3),(27.3,.16,.8),(27.9,.155,1.3),(28.6,.15,1.0),(29.3,.158,1.45),(30.3,.152,1.2),(31.1,.162,1.35),(31.7,.15,1.5),(32.4,.148,1.4),
(32.75,.12,1.2),(32.4,.095,1.45),(31.5,.09,1.3),(30.6,.088,1.2),(29.8,.085,1.0),(29.2,.09,1.3),(28.4,.09,1.1),(27.7,.09,.9),(27.1,.09,.7),(26.9,.1,1.5),
]
band_top = [
(27.0,.198,2.0),(27.1,.21,1.5),(27.18,.196,2.0),(27.26,.192,1.1),(27.34,.205,2.0),(27.42,.194,1.7),(27.5,.21,2.0),(27.58,.198,2.0),(27.66,.205,1.2),(27.74,.196,2.0),(27.82,.208,2.0),(27.9,.2,.8),(27.98,.212,2.0),(28.06,.198,2.0),(28.14,.208,1.4),(28.22,.2,2.0),(28.3,.207,2.0),(28.38,.198,.9),(28.46,.212,2.0),(28.54,.2,2.0),
(28.62,.21,1.3),(28.7,.198,2.0),(28.78,.208,2.0),(28.86,.215,1.6),(28.94,.2,2.0),(29.02,.21,1.0),(29.1,.197,2.0),(29.18,.205,2.0),(29.26,.215,1.2),(29.34,.198,2.0),(29.42,.218,2.0),(29.5,.2,1.5),(29.58,.21,2.0),(29.66,.198,2.0),(29.74,.215,.8),(29.82,.2,2.0),(29.9,.208,2.0),(29.98,.196,1.1),(30.06,.212,2.0),(30.14,.2,2.0),
(30.22,.205,1.3),(30.3,.198,2.0),(30.38,.21,2.0),(30.46,.2,1.6),(30.54,.208,2.0),(30.62,.197,2.0),(30.7,.215,1.0),(30.78,.2,2.0),(30.86,.212,2.0),(30.94,.198,1.4),(31.02,.205,2.0),(31.1,.215,2.0),(31.18,.2,.8),(31.26,.21,2.0),(31.34,.198,2.0),(31.42,.205,1.2),(31.5,.215,2.0),(31.58,.2,2.0),(31.66,.205,1.5),(31.74,.198,2.0),
(31.82,.21,2.0),(31.9,.2,1.1),(31.98,.196,2.0),(32.06,.2,2.0),(32.14,.198,1.3),(32.22,.204,2.0),(32.3,.195,2.0),(32.4,.2,1.6),(32.5,.19,2.0),(32.6,.186,2.0),
]
band_speckle = [
(26.95,.165,1.45),(27.2,.172,1.3),(27.45,.178,.9),(27.62,.16,1.55),(27.85,.176,1.25),(28.25,.174,1.5),(28.42,.168,.85),(28.68,.178,1.3),(28.98,.174,1.5),(29.25,.178,1.15),
(29.48,.17,.95),(29.72,.18,1.35),(30.12,.176,1.55),(30.62,.178,1.2),(30.85,.17,1.45),(31.12,.178,.9),(31.48,.172,1.3),(31.75,.168,1.5),(32.05,.176,1.15),(32.25,.166,1.55),
(27.22,.14,1.6),(27.75,.128,1.4),(28.2,.148,1.6),(28.7,.118,1.5),(29.15,.142,1.7),(29.55,.112,1.35),(29.88,.13,1.6),(30.55,.128,1.45),(30.78,.118,1.7),(31.05,.135,1.5),
(31.55,.126,1.65),(31.95,.142,1.4),(32.2,.118,1.6),(32.55,.138,1.45),(32.68,.105,1.55),(27.35,.1,1.5),(27.88,.11,1.65),(28.62,.098,1.45),(29.6,.096,1.6),(30.3,.1,1.5),
]
# the dense band, where single marks can no longer be told apart: (dm2 ratio x 1000, sin^2 theta23), all at |eps'| = 2
red_edge = [
(26.41,.172),(26.53,.173),(26.64,.173),(26.45,.122),(26.43,.11),(26.49,.113),(26.53,.087),(26.58,.104),(26.55,.113),(26.6,.15),(26.58,.128),(26.61,.136),(26.69,.088),(26.75,.085),(26.77,.08),
(26.82,.083),(26.72,.097),(26.93,.072),(27,.077),(27.07,.076),(27.16,.07),(27.29,.07),(27.23,.079),(27.37,.078),(27.5,.073),(27.56,.08),(27.81,.079),(27.89,.069),(28.01,.072),(28.14,.076),
(28.26,.076),(28.39,.07),(28.49,.076),(28.58,.075),(28.68,.07),(28.91,.07),(28.97,.074),(29.14,.071),(29.22,.072),(29.36,.071),(29.42,.072),(29.53,.071),(29.69,.073),(29.76,.077),(29.86,.076),
(29.96,.072),(30.14,.068),(30.03,.072),(30.29,.079),(30.37,.071),(30.51,.076),(30.59,.071),(30.7,.071),(30.92,.072),(31.08,.079),(31.18,.07),(31.34,.068),(31.38,.07),(31.6,.068),(31.75,.07),
(31.93,.07),(32.05,.077),(32.21,.072),(32.33,.074),(32.38,.075),(32.46,.083),(32.59,.087),(32.69,.074),(32.84,.083),(32.94,.075),(33.15,.072),(33.15,.087),(32.94,.094),(33.09,.096),(33.18,.109),
(33.26,.133),(33.17,.141),(33.13,.154),(33.2,.168),(33.12,.168),(33.08,.122),(33.06,.111),(33.02,.155),(32.96,.159),(32.79,.173),(32.85,.184),(32.42,.196),(32.35,.194),(32.54,.187),(32.26,.181),(32.33,.186),
]
red_a = [(26.85,.085),(26.96,.082),(27.05,.086),(27.14,.083),(27.24,.087),(27.33,.083),(27.44,.086),(27.53,.083),(27.63,.085),(27.72,.088),(27.8,.084),(27.9,.082),(28.0,.085),(28.1,.083),(28.2,.086),(28.3,.082),(28.41,.083),(28.5,.087),(28.6,.084),(28.7,.082),(28.8,.085),(28.88,.082),(28.99,.085),(29.08,.083),(29.18,.085),(29.27,.082),(29.37,.084),(29.47,.086),(29.56,.082),(29.65,.085),(29.74,.083),(29.85,.085),(29.94,.082),(30.04,.085),(30.14,.081),(30.24,.085),(30.33,.082),(30.43,.085),(30.53,.082),(30.63,.084),(30.72,.081),(30.82,.085),(30.93,.083),(31.03,.086),(31.12,.083),(31.22,.081),(31.32,.085),(31.42,.082),(31.52,.085),(31.62,.08),(31.71,.084),(31.81,.085),(31.9,.082),(32.0,.083),(32.1,.085),(32.2,.084),(32.28,.086),(32.44,.087),(32.55,.083),(32.65,.085),(32.78,.087),(32.9,.085),(33.0,.083)]
red_a2 = [(26.8,.09),(26.9,.089),(26.99,.091),(27.09,.09),(27.19,.089),(27.28,.091),(27.38,.09),(27.48,.09),(27.58,.091),(27.68,.089),(27.77,.09),(27.86,.091),(27.96,.089),(28.05,.09),(28.15,.091),(28.25,.09),(28.34,.089),(28.44,.091),(28.54,.09),(28.63,.089),(28.73,.091),(28.83,.09),(28.92,.089),(29.02,.09),(29.12,.091),(29.21,.089),(29.31,.09),(29.41,.091),(29.5,.09),(29.6,.089),(29.69,.09),(29.79,.091),(29.89,.089),(29.98,.09),(30.08,.091),(30.18,.089),(30.27,.09),(30.37,.09),(30.47,.089),(30.56,.091),(30.66,.09),(30.76,.089),(30.85,.09),(30.95,.091),(31.05,.09),(31.14,.089),(31.24,.091),(31.34,.09),(31.44,.089),(31.54,.091),(31.63,.09),(31.73,.089),(31.83,.09),(31.92,.091),(32.02,.09),(32.12,.089),(32.22,.091),(32.31,.09),(32.42,.091),(32.52,.09),(32.62,.089),(32.72,.091),(32.82,.09),(32.92,.089),(33.05,.09)]
red_b = [(26.78,.095),(26.88,.093),(26.97,.096),(27.07,.092),(27.16,.095),(27.26,.093),(27.35,.096),(27.45,.093),(27.54,.095),(27.63,.093),(27.72,.096),(27.83,.092),(27.92,.096),(28.01,.093),(28.11,.095),(28.2,.092),(28.3,.095),(28.39,.093),(28.49,.096),(28.58,.093),(28.68,.095),(28.77,.092),(28.86,.096),(28.96,.093),(29.05,.095),(29.15,.092),(29.24,.095),(29.34,.093),(29.44,.095),(29.53,.092),(29.62,.095),(29.71,.093),(29.81,.096),(29.9,.093),(30.0,.095),(30.09,.092),(30.19,.095),(30.28,.093),(30.38,.096),(30.47,.092),(30.57,.095),(30.66,.093),(30.76,.096),(30.85,.092),(30.95,.095),(31.04,.093),(31.14,.096),(31.23,.092),(31.33,.095),(31.42,.093),(31.52,.095),(31.61,.092),(31.71,.096),(31.8,.093),(31.89,.095),(31.99,.092),(32.08,.095),(32.18,.093),(32.27,.096),(32.37,.092),(32.47,.095),(32.56,.093),(32.66,.096),(32.75,.093),(32.85,.095),(33.0,.094)]
red_b2 = [(26.7,.1),(26.8,.099),(26.9,.101),(27.0,.1),(27.09,.099),(27.19,.101),(27.28,.1),(27.38,.099),(27.47,.101),(27.57,.1),(27.66,.099),(27.76,.1),(27.85,.101),(27.95,.099),(28.04,.1),(28.14,.101),(28.23,.1),(28.33,.099),(28.42,.101),(28.52,.1),(28.61,.099),(28.71,.1),(28.8,.101),(28.9,.1),(28.99,.099),(29.09,.101),(29.18,.1),(29.28,.099),(29.37,.1),(29.47,.101),(29.56,.1),(29.66,.099),(29.75,.101),(29.85,.1),(29.94,.099),(30.04,.1),(30.13,.101),(30.23,.1),(30.32,.099),(30.42,.101),(30.51,.1),(30.61,.099),(30.7,.1),(30.8,.101),(30.89,.1),(30.99,.099),(31.08,.101),(31.18,.1),(31.27,.099),(31.37,.1),(31.46,.101),(31.56,.1),(31.65,.099),(31.75,.101),(31.84,.1),(31.94,.099),(32.03,.1),(32.13,.101),(32.22,.1),(32.32,.099),(32.41,.101),(32.51,.1),(32.6,.099),(32.7,.1),(32.79,.101),(32.89,.1),(32.98,.099),(33.06,.101)]
red_c = [(26.64,.105),(26.74,.103),(26.83,.106),(26.93,.102),(27.02,.105),(27.12,.103),(27.21,.106),(27.31,.102),(27.4,.105),(27.5,.103),(27.59,.106),(27.68,.102),(27.78,.105),(27.87,.103),(27.97,.106),(28.06,.102),(28.16,.105),(28.25,.103),(28.35,.106),(28.44,.102),(28.54,.105),(28.63,.103),(28.73,.106),(28.82,.102),(28.91,.105),(29.01,.103),(29.1,.106),(29.2,.102),(29.29,.105),(29.39,.103),(29.48,.106),(29.58,.102),(29.67,.105),(29.77,.103),(29.86,.106),(29.96,.102),(30.05,.105),(30.14,.103),(30.24,.106),(30.33,.102),(30.43,.105),(30.52,.103),(30.62,.106),(30.71,.102),(30.81,.105),(30.9,.103),(31.0,.106),(31.09,.102),(31.19,.105),(31.28,.103),(31.38,.106),(31.47,.102),(31.57,.105),(31.66,.103),(31.76,.106),(31.85,.102),(31.95,.105),(32.04,.103),(32.14,.106),(32.23,.102),(32.33,.105),(32.42,.103),(32.52,.106),(32.61,.102),(32.71,.105),(32.8,.103),(32.9,.106),(32.99,.102),(33.1,.104)]
red_c2 = [(26.66,.11),(26.76,.109),(26.86,.111),(26.95,.11),(27.05,.109),(27.14,.111),(27.24,.11),(27.33,.109),(27.43,.11),(27.52,.111),(27.62,.11),(27.71,.109),(27.81,.111),(27.9,.11),(28.0,.109),(28.09,.11),(28.19,.111),(28.28,.11),(28.38,.109),(28.47,.111),(28.57,.11),(28.66,.109),(28.76,.11),(28.85,.111),(28.95,.11),(29.04,.109),(29.14,.111),(29.23,.11),(29.33,.109),(29.42,.11),(29.52,.111),(29.61,.11),(29.71,.109),(29.8,.111),(29.9,.11),(29.99,.109),(30.09,.11),(30.18,.111),(30.28,.11),(30.37,.109),(30.47,.111),(30.56,.11),(30.66,.109),(30.75,.11),(30.85,.111),(30.94,.11),(31.04,.109),(31.13,.111),(31.23,.11),(31.32,.109),(31.42,.11),(31.51,.111),(31.61,.11),(31.7,.109),(31.8,.111),(31.89,.11),(31.99,.109),(32.08,.11),(32.18,.111),(32.27,.11),(32.37,.109),(32.46,.111),(32.56,.11),(32.65,.109),(32.75,.11),(32.84,.111),(32.94,.11),(33.03,.109),(33.12,.111)]
red_d = [(26.6,.115),(26.69,.113),(26.79,.116),(26.88,.112),(26.98,.115),(27.07,.113),(27.17,.116),(27.26,.112),(27.36,.115),(27.45,.113),(27.55,.116),(27.64,.112),(27.74,.115),(27.83,.113),(27.92,.116),(28.02,.112),(28.11,.115),(28.21,.113),(28.3,.116),(28.4,.112),(28.49,.115),(28.59,.113),(28.68,.116),(28.78,.112),(28.87,.115),(28.97,.113),(29.06,.116),(29.16,.112),(29.25,.115),(29.34,.113),(29.44,.116),(29.53,.112),(29.63,.115),(29.72,.113),(29.82,.116),(29.91,.112),(30.01,.115),(30.1,.113),(30.2,.116),(30.29,.112),(30.39,.115),(30.48,.113),(30.58,.116),(30.67,.112),(30.77,.115),(30.86,.113),(30.96,.116),(31.05,.112),(31.15,.115),(31.24,.113),(31.34,.116),(31.43,.112),(31.53,.115),(31.62,.113),(31.72,.116),(31.81,.112),(31.91,.115),(32.0,.113),(32.1,.116),(32.19,.112),(32.29,.115),(32.38,.113),(32.48,.116),(32.57,.112),(32.67,.115),(32.76,.113),(32.86,.116),(32.95,.112),(33.05,.115),(33.14,.117)]
red_d2 = [(26.62,.12),(26.72,.119),(26.81,.121),(26.91,.12),(27.0,.119),(27.1,.12),(27.19,.121),(27.29,.12),(27.38,.119),(27.48,.121),(27.57,.12),(27.67,.119),(27.76,.12),(27.86,.121),(27.95,.12),(28.05,.119),(28.14,.121),(28.24,.12),(28.33,.119),(28.43,.12),(28.52,.121),(28.62,.12),(28.71,.119),(28.81,.121),(28.9,.12),(29.0,.119),(29.09,.12),(29.19,.121),(29.28,.12),(29.38,.119),(29.47,.121),(29.57,.12),(29.66,.119),(29.76,.12),(29.85,.121),(29.95,.12),(30.04,.119),(30.14,.121),(30.23,.12),(30.33,.119),(30.42,.12),(30.52,.121),(30.61,.12),(30.71,.119),(30.8,.121),(30.9,.12),(30.99,.119),(31.09,.12),(31.18,.121),(31.28,.12),(31.37,.119),(31.47,.121),(31.56,.12),(31.66,.119),(31.75,.12),(31.85,.121),(31.94,.12),(32.04,.119),(32.13,.121),(32.23,.12),(32.32,.119),(32.42,.12),(32.51,.121),(32.61,.12),(32.7,.119),(32.8,.121),(32.89,.12),(32.99,.119),(33.08,.12),(33.16,.121)]
red_e = [(26.55,.125),(26.64,.123),(26.74,.126),(26.83,.122),(26.93,.125),(27.02,.123),(27.12,.126),(27.21,.122),(27.31,.125),(27.4,.123),(27.5,.126),(27.59,.122),(27.69,.125),(27.78,.123),(27.88,.126),(27.97,.122),(28.07,.125),(28.16,.123),(28.26,.126),(28.35,.122),(28.45,.125),(28.54,.123),(28.64,.126),(28.73,.122),(28.83,.125),(28.92,.123),(29.02,.126),(29.11,.122),(29.2,.125),(29.3,.123),(29.39,.126),(29.49,.122),(29.58,.125),(29.68,.123),(29.77,.126),(29.87,.122),(29.96,.125),(30.06,.123),(30.15,.126),(30.25,.122),(30.34,.125),(30.44,.123),(30.53,.126),(30.63,.122),(30.72,.125),(30.82,.123),(30.91,.126),(31.01,.122),(31.1,.125),(31.2,.123),(31.29,.126),(31.39,.122),(31.48,.125),(31.58,.123),(31.67,.126),(31.77,.122),(31.86,.125),(31.96,.123),(32.05,.126),(32.15,.122),(32.24,.125),(32.34,.123),(32.43,.126),(32.53,.122),(32.62,.125),(32.72,.123),(32.81,.126),(32.91,.122),(33.0,.125),(33.1,.123),(33.18,.127)]
red_e2 = [(26.58,.13),(26.68,.129),(26.77,.131),(26.87,.13),(26.96,.129),(27.06,.13),(27.15,.131),(27.25,.13),(27.34,.129),(27.44,.131),(27.53,.13),(27.63,.129),(27.72,.13),(27.82,.131),(27.91,.13),(28.01,.129),(28.1,.131),(28.2,.13),(28.29,.129),(28.39,.13),(28.48,.131),(28.58,.13),(28.67,.129),(28.77,.131),(28.86,.13),(28.96,.129),(29.05,.13),(29.15,.131),(29.24,.13),(29.34,.129),(29.43,.131),(29.53,.13),(29.62,.129),(29.72,.13),(29.81,.131),(29.91,.13),(30.0,.129),(30.1,.131),(30.19,.13),(30.29,.129),(30.38,.13),(30.48,.131),(30.57,.13),(30.67,.129),(30.76,.131),(30.86,.13),(30.95,.129),(31.05,.13),(31.14,.131),(31.24,.13),(31.33,.129),(31.43,.131),(31.52,.13),(31.62,.129),(31.71,.13),(31.81,.131),(31.9,.13),(32.0,.129),(32.09,.131),(32.19,.13),(32.28,.129),(32.38,.13),(32.47,.131),(32.57,.13),(32.66,.129),(32.76,.131),(32.85,.13),(32.95,.129),(33.04,.13),(33.14,.131)]
red_f = [(26.62,.135),(26.71,.133),(26.81,.136),(26.9,.132),(27.0,.135),(27.09,.133),(27.19,.136),(27.28,.132),(27.38,.135),(27.47,.133),(27.57,.136),(27.66,.132),(27.76,.135),(27.85,.133),(27.95,.136),(28.04,.132),(28.14,.135),(28.23,.133),(28.33,.136),(28.42,.132),(28.52,.135),(28.61,.133),(28.71,.136),(28.8,.132),(28.9,.135),(28.99,.133),(29.09,.136),(29.18,.132),(29.28,.135),(29.37,.133),(29.47,.136),(29.56,.132),(29.66,.135),(29.75,.133),(29.85,.136),(29.94,.132),(30.04,.135),(30.13,.133),(30.23,.136),(30.32,.132),(30.42,.135),(30.51,.133),(30.61,.136),(30.7,.132),(30.8,.135),(30.89,.133),(30.99,.136),(31.08,.132),(31.18,.135),(31.27,.133),(31.37,.136),(31.46,.132),(31.56,.135),(31.65,.133),(31.75,.136),(31.84,.132),(31.94,.135),(32.03,.133),(32.13,.136),(32.22,.132),(32.32,.135),(32.41,.133),(32.51,.136),(32.6,.132),(32.7,.135),(32.79,.133),(32.89,.136),(32.98,.132),(33.08,.135),(33.17,.132)]
red_f2 = [(26.64,.14),(26.74,.139),(26.83,.141),(26.93,.14),(27.02,.139),(27.12,.14),(27.21,.141),(27.31,.14),(27.4,.139),(27.5,.141),(27.59,.14),(27.69,.139),(27.78,.14),(27.88,.141),(27.97,.14),(28.07,.139),(28.16,.141),(28.26,.14),(28.35,.139),(28.45,.14),(28.54,.141),(28.64,.14),(28.73,.139),(28.83,.141),(28.92,.14),(29.02,.139),(29.11,.14),(29.21,.141),(29.3,.14),(29.4,.139),(29.49,.141),(29.59,.14),(29.68,.139),(29.78,.14),(29.87,.141),(29.97,.14),(30.06,.139),(30.16,.141),(30.25,.14),(30.35,.139),(30.44,.14),(30.54,.141),(30.63,.14),(30.73,.139),(30.82,.141),(30.92,.14),(31.01,.139),(31.11,.14),(31.2,.141),(31.3,.14),(31.39,.139),(31.49,.141),(31.58,.14),(31.68,.139),(31.77,.14),(31.87,.141),(31.96,.14),(32.06,.139),(32.15,.141),(32.25,.14),(32.34,.139),(32.44,.14),(32.53,.141),(32.63,.14),(32.72,.139),(32.82,.141),(32.91,.14),(33.01,.139),(33.1,.14)]
red_g = [(26.67,.145),(26.76,.143),(26.86,.146),(26.95,.142),(27.05,.145),(27.14,.143),(27.24,.146),(27.33,.142),(27.43,.145),(27.52,.143),(27.62,.146),(27.71,.142),(27.81,.145),(27.9,.143),(28.0,.146),(28.09,.142),(28.19,.145),(28.28,.143),(28.38,.146),(28.47,.142),(28.57,.145),(28.66,.143),(28.76,.146),(28.85,.142),(28.95,.145),(29.04,.143),(29.14,.146),(29.23,.142),(29.33,.145),(29.42,.143),(29.52,.146),(29.61,.142),(29.71,.145),(29.8,.143),(29.9,.146),(29.99,.142),(30.09,.145),(30.18,.143),(30.28,.146),(30.37,.142),(30.47,.145),(30.56,.143),(30.66,.146),(30.75,.142),(30.85,.145),(30.94,.143),(31.04,.146),(31.13,.142),(31.23,.145),(31.32,.143),(31.42,.146),(31.51,.142),(31.61,.145),(31.7,.143),(31.8,.146),(31.89,.142),(31.99,.145),(32.08,.143),(32.18,.146),(32.27,.142),(32.37,.145),(32.46,.143),(32.56,.146),(32.65,.142),(32.75,.145),(32.84,.143),(32.94,.146),(33.03,.142),(33.12,.145)]
red_g2 = [(26.7,.15),(26.8,.149),(26.89,.151),(26.99,.15),(27.08,.149),(27.18,.15),(27.27,.151),(27.37,.15),(27.46,.149),(27.56,.151),(27.65,.15),(27.75,.149),(27.84,.15),(27.94,.151),(28.03,.15),(28.13,.149),(28.22,.151),(28.32,.15),(28.41,.149),(28.51,.15),(28.6,.151),(28.7,.15),(28.79,.149),(28.89,.151),(28.98,.15),(29.08,.149),(29.17,.15),(29.27,.151),(29.36,.15),(29.46,.149),(29.55,.151),(29.65,.15),(29.74,.149),(29.84,.15),(29.93,.151),(30.03,.15),(30.12,.149),(30.22,.151),(30.31,.15),(30.41,.149),(30.5,.15),(30.6,.151),(30.69,.15),(30.79,.149),(30.88,.151),(30.98,.15),(31.07,.149),(31.17,.15),(31.26,.151),(31.36,.15),(31.45,.149),(31.55,.151),(31.64,.15),(31.74,.149),(31.83,.15),(31.93,.151),(32.02,.15),(32.12,.149),(32.21,.151),(32.31,.15),(32.4,.149),(32.5,.15),(32.59,.151),(32.69,.15),(32.78,.149),(32.88,.151),(32.97,.15),(33.06,.149)]
red_h = [(26.72,.155),(26.82,.153),(26.91,.156),(27.01,.152),(27.1,.155),(27.2,.153),(27.29,.156),(27.39,.152),(27.48,.155),(27.58,.153),(27.67,.156),(27.77,.152),(27.86,.155),(27.96,.153),(28.05,.156),(28.15,.152),(28.24,.155),(28.34,.153),(28.43,.156),(28.53,.152),(28.62,.155),(28.72,.153),(28.81,.156),(28.91,.152),(29.0,.155),(29.1,.153),(29.19,.156),(29.29,.152),(29.38,.155),(29.48,.153),(29.57,.156),(29.67,.152),(29.76,.155),(29.86,.153),(29.95,.156),(30.05,.152),(30.14,.155),(30.24,.153),(30.33,.156),(30.43,.152),(30.52,.155),(30.62,.153),(30.71,.156),(30.81,.152),(30.9,.155),(31.0,.153),(31.09,.156),(31.19,.152),(31.28,.155),(31.38,.153),(31.47,.156),(31.57,.152),(31.66,.155),(31.76,.153),(31.85,.156),(31.95,.152),(32.04,.155),(32.14,.153),(32.23,.156),(32.33,.152),(32.42,.155),(32.52,.153),(32.61,.156),(32.71,.152),(32.8,.155),(32.9,.153),(33.0,.154)]
red_h2 = [(26.78,.16),(26.88,.159),(26.97,.161),(27.07,.16),(27.16,.159),(27.26,.16),(27.35,.161),(27.45,.16),(27.54,.159),(27.64,.161),(27.73,.16),(27.83,.159),(27.92,.16),(28.02,.161),(28.11,.16),(28.21,.159),(28.3,.161),(28.4,.16),(28.49,.159),(28.59,.16),(28.68,.161),(28.78,.16),(28.87,.159),(28.97,.161),(29.06,.16),(29.16,.159),(29.25,.16),(29.35,.161),(29.44,.16),(29.54,.159),(29.63,.161),(29.73,.16),(29.82,.159),(29.92,.16),(30.01,.161),(30.11,.16),(30.2,.159),(30.3,.161),(30.39,.16),(30.49,.159),(30.58,.16),(30.68,.161),(30.77,.16),(30.87,.159),(30.96,.161),(31.06,.16),(31.15,.159),(31.25,.16),(31.34,.161),(31.44,.16),(31.53,.159),(31.63,.161),(31.72,.16),(31.82,.159),(31.91,.16),(32.01,.161),(32.1,.16),(32.2,.159),(32.29,.161),(32.39,.16),(32.48,.159),(32.58,.16),(32.67,.161),(32.77,.16),(32.86,.159),(32.96,.16)]
red_i = [(26.76,.165),(26.88,.163),(27.0,.166),(27.09,.162),(27.19,.165),(27.28,.163),(27.38,.166),(27.47,.162),(27.57,.165),(27.66,.163),(27.76,.166),(27.85,.162),(27.95,.165),(28.04,.163),(28.14,.166),(28.23,.162),(28.33,.165),(28.42,.163),(28.52,.166),(28.61,.162),(28.71,.165),(28.8,.163),(28.9,.166),(28.99,.162),(29.09,.165),(29.18,.163),(29.28,.166),(29.37,.162),(29.47,.165),(29.56,.163),(29.66,.166),(29.75,.162),(29.85,.165),(29.94,.163),(30.04,.166),(30.13,.162),(30.23,.165),(30.32,.163),(30.42,.166),(30.51,.162),(30.61,.165),(30.7,.163),(30.8,.166),(30.89,.162),(30.99,.165),(31.08,.163),(31.18,.166),(31.27,.162),(31.37,.165),(31.46,.163),(31.56,.166),(31.65,.162),(31.75,.165),(31.84,.163),(31.94,.166),(32.03,.162),(32.13,.165),(32.22,.163),(32.32,.166),(32.41,.162),(32.51,.165),(32.6,.163),(32.7,.166),(32.79,.162),(32.88,.164),(32.98,.162)]
red_i2 = [(26.83,.17),(26.94,.169),(27.05,.171),(27.15,.17),(27.25,.169),(27.35,.17),(27.44,.171),(27.54,.17),(27.63,.169),(27.73,.171),(27.82,.17),(27.92,.169),(28.01,.17),(28.11,.171),(28.2,.17),(28.3,.169),(28.39,.171),(28.49,.17),(28.58,.169),(28.68,.17),(28.77,.171),(28.87,.17),(28.96,.169),(29.06,.171),(29.15,.17),(29.25,.169),(29.34,.17),(29.44,.171),(29.53,.17),(29.63,.169),(29.72,.171),(29.82,.17),(29.91,.169),(30.01,.17),(30.1,.171),(30.2,.17),(30.29,.169),(30.39,.171),(30.48,.17),(30.58,.169),(30.67,.17),(30.77,.171),(30.86,.17),(30.96,.169),(31.05,.171),(31.15,.17),(31.24,.169),(31.34,.17),(31.43,.171),(31.53,.17),(31.62,.169),(31.72,.171),(31.81,.17),(31.91,.169),(32.0,.17),(32.1,.171),(32.19,.17),(32.29,.169),(32.38,.171),(32.48,.17),(32.57,.169),(32.67,.17),(32.76,.171),(32.86,.17)]
red_j = [(26.9,.176),(27.02,.173),(27.14,.177),(27.25,.174),(27.36,.176),(27.46,.173),(27.56,.177),(27.66,.174),(27.78,.176),(27.88,.173),(27.98,.177),(28.08,.174),(28.18,.176),(28.28,.173),(28.38,.177),(28.47,.174),(28.57,.176),(28.67,.173),(28.77,.177),(28.87,.174),(28.97,.176),(29.07,.173),(29.17,.177),(29.27,.174),(29.37,.176),(29.47,.173),(29.57,.177),(29.67,.174),(29.77,.176),(29.87,.173),(29.97,.177),(30.07,.174),(30.17,.176),(30.27,.173),(30.37,.177),(30.47,.174),(30.57,.176),(30.67,.173),(30.77,.177),(30.87,.174),(30.97,.176),(31.07,.173),(31.17,.177),(31.27,.174),(31.37,.176),(31.47,.173),(31.57,.177),(31.67,.174),(31.77,.176),(31.87,.173),(31.97,.177),(32.07,.174),(32.17,.176),(32.27,.173),(32.37,.177),(32.47,.174),(32.57,.176),(32.67,.173)]
red_j2 = [(26.96,.181),(27.08,.18),(27.2,.182),(27.31,.18),(27.42,.181),(27.53,.182),(27.65,.18),(27.76,.181),(27.87,.182),(27.98,.18),(28.09,.181),(28.2,.18),(28.31,.182),(28.42,.181),(28.53,.18),(28.64,.182),(28.75,.18),(28.86,.181),(28.97,.182),(29.08,.18),(29.19,.181),(29.3,.182),(29.41,.18),(29.52,.181),(29.63,.182),(29.74,.18),(29.85,.181),(29.96,.182),(30.07,.18),(30.18,.181),(30.29,.182),(30.4,.18),(30.51,.181),(30.62,.182),(30.73,.18),(30.84,.181),(30.95,.182),(31.06,.18),(31.17,.181),(31.28,.182),(31.39,.18),(31.5,.181),(31.61,.182),(31.72,.18),(31.83,.181),(31.94,.182),(32.05,.18),(32.16,.181),(32.27,.18),(32.38,.18),(32.49,.179)]
red_k = [(27.0,.187),(27.13,.184),(27.24,.188),(27.36,.185),(27.48,.183),(27.6,.187),(27.73,.184),(27.84,.188),(27.96,.183),(28.08,.186),(28.2,.189),(28.33,.184),(28.45,.187),(28.56,.183),(28.68,.188),(28.8,.184),(28.93,.187),(29.05,.183),(29.17,.188),(29.28,.185),(29.42,.187),(29.54,.184),(29.66,.188),(29.78,.184),(29.9,.187),(30.02,.183),(30.14,.188),(30.26,.185),(30.38,.188),(30.5,.184),(30.62,.187),(30.74,.183),(30.86,.188),(30.98,.185),(31.1,.187),(31.22,.183),(31.34,.188),(31.46,.184),(31.58,.186),(31.7,.183),(31.82,.187),(31.94,.184),(32.06,.187),(32.18,.183),(32.28,.185)]

low, high = 0.0, 2.0

# matplotlib's "rainbow" colour map
t = np.linspace(0, 1, 256)
palette = ["#%02x%02x%02x" % (round(255*min(1, abs(2*v-0.5))), round(255*np.sin(np.pi*v)), round(255*np.cos(np.pi*v/2))) for v in t]

# order of drawing: a few colours behind, the red band, everything else on top
red_all = (red_edge + red_a + red_a2 + red_b + red_b2 + red_c + red_c2 + red_d + red_d2 + red_e + red_e2 + red_f + red_f2
           + red_g + red_g2 + red_h + red_h2 + red_i + red_i2 + red_j + red_j2 + red_k)
top_all = band_speckle + band_top + mid_left + mid_right + upper_left + upper_right
xs = [p[0]/1000 for p in under_red] + [p[0]/1000 for p in red_all] + [p[0]/1000 for p in top_all]
ys = [p[1] for p in under_red] + [p[1] for p in red_all] + [p[1] for p in top_all]
es = [p[2] for p in under_red] + [2.0 for p in red_all] + [p[2] for p in top_all]

FL, FR, FT, FB = 315, 2547, 157, 1969  # edges of the plot area in the picture
W, H = 3160, 2234
XMIN, XMAX, YMIN, YMAX = 0.026072, 0.0336, 0.0, 0.8
xpp = (XMAX-XMIN)/(FR-FL); ypp = (YMAX-YMIN)/(FB-FT)
# labels are clipped to the frame, so the frame fills the whole canvas and the axes sit at fixed locations
p = figure(width=W, height=H, output_backend="svg", toolbar_location=None,
           x_range=Range1d(XMIN-FL*xpp, XMAX+(W-FR)*xpp), y_range=Range1d(YMIN-(H-FB)*ypp, YMAX+FT*ypp),
           x_axis_location=None, y_axis_location=None, min_border=0)
p.outline_line_color = None
p.background_fill_color = "white"
p.border_fill_color = "white"
p.grid.visible = False

x_minor = [round(0.0262 + i*0.0002, 4) for i in range(38)]
y_minor = [round(i*0.02, 2) for i in range(41)]
xt = FixedTicker(ticks=x_major, minor_ticks=x_minor)
yt = FixedTicker(ticks=y_major, minor_ticks=y_minor)

def style(ax, labels):
    ax.axis_line_width = 5
    ax.major_tick_line_width = 6
    ax.minor_tick_line_width = 4.5
    ax.major_tick_in = 40
    ax.major_tick_out = 0
    ax.minor_tick_in = 21
    ax.minor_tick_out = 0
    ax.major_label_text_font = "DejaVu Sans"
    ax.major_label_text_font_size = "83px"
    ax.major_label_text_color = "black" if labels else None
    ax.major_label_standoff = 20

bot = LinearAxis(ticker=xt, formatter=PrintfTickFormatter(format="%.3f"), fixed_location=YMIN, bounds=(XMIN, XMAX)); style(bot, True)
lef = LinearAxis(ticker=yt, formatter=PrintfTickFormatter(format="%.1f"), fixed_location=XMIN, bounds=(YMIN, YMAX)); style(lef, True)
top = LinearAxis(ticker=xt, fixed_location=YMAX, bounds=(XMIN, XMAX)); style(top, False)
rig = LinearAxis(ticker=yt, fixed_location=XMAX, bounds=(YMIN, YMAX)); style(rig, False)
p.add_layout(bot, "below"); p.add_layout(lef, "left"); p.add_layout(top, "above"); p.add_layout(rig, "right")

mapper = LinearColorMapper(palette=palette, low=low, high=high)
src = ColumnDataSource(dict(x=xs, y=ys, e=es))
p.scatter("x", "y", source=src, size=27.5, marker="circle", line_color=None,
          fill_color={"field": "e", "transform": mapper})
# points stop at the upper spine, as in a clipped axes
p.quad(left=[XMIN], right=[XMAX], bottom=[YMAX], top=[YMAX+40*ypp], fill_color="white", line_color=None)
# dotted grid, over the points
p.segment(x0=x_major, y0=[YMIN]*len(x_major), x1=x_major, y1=[YMAX]*len(x_major), line_color="#808080", line_alpha=0.33,
          line_width=11, line_dash="11 18")
p.segment(x0=[XMIN]*len(y_major), y0=y_major, x1=[XMAX]*len(y_major), y1=y_major, line_color="#808080", line_alpha=0.33,
          line_width=11, line_dash="11 18")

cb = ColorBar(color_mapper=mapper, ticker=FixedTicker(ticks=cbar_major), formatter=PrintfTickFormatter(format="%.2f"),
              location=(2686, H-FB), width=92, height=FB-FT, padding=0, margin=0,
              border_line_color=None, background_fill_color=None,
              major_tick_line_color="black", major_tick_line_width=4.5, major_tick_in=0, major_tick_out=18,
              minor_tick_line_color=None, major_label_text_font="DejaVu Sans", major_label_text_font_size="87px",
              major_label_text_color="black", label_standoff=21)
cb.bar_line_color = "black"
cb.bar_line_width = 5
p.add_layout(cb)

DESC = 0.236
def txt(s, rx, ry, size, font="DejaVu Sans", style_="normal", angle=0):
    if angle == 0:
        ry = ry + DESC*size
    else:
        rx = rx + DESC*size
    p.add_layout(Label(x=rx, y=H-ry, x_units="screen", y_units="screen", text=s, text_font=font,
                       text_font_size=f"{size}px", text_font_style=style_, text_color="black",
                       text_baseline="bottom", text_align="left", angle=angle, angle_units="deg"))

# title
txt("IH", 1364, 118, 122, font="Liberation Serif")
# x label
txt("Δ", 1189, 2173, 87.5); txt("m", 1253, 2173, 87.5, style_="italic")
txt("2", 1344, 2139, 61); txt("21", 1339, 2198, 61)
txt("/", 1421, 2173, 87.5)
txt("Δ", 1447, 2173, 87.5); txt("m", 1511, 2173, 87.5, style_="italic")
txt("2", 1603, 2139, 61); txt("31", 1599, 2198, 61)
# y label
txt("sin", 119, 1213, 87.5, angle=90); txt("2", 84, 1086, 61, angle=90)
txt("θ", 119, 1044, 87.5, style_="italic", angle=90); txt("23", 134, 989, 61, angle=90)
# colour bar label
txt("|", 3107, 1124, 87.5, angle=90); txt("ε′", 3107, 1093, 87.5, style_="italic", angle=90); txt("|", 3107, 1023, 87.5, angle=90)

open("out.html", "w").write(file_html(p, INLINE))
